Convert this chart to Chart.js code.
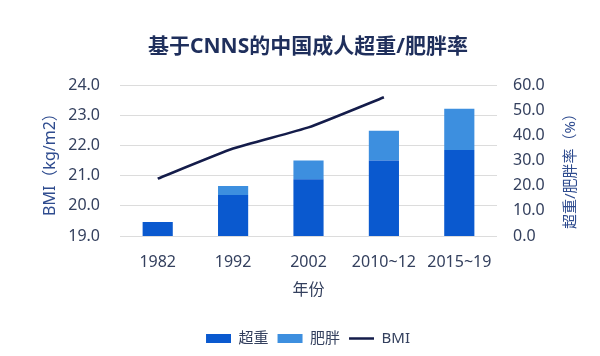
<!DOCTYPE html>
<html>
<head>
<meta charset="utf-8">
<script src="https://cdn.jsdelivr.net/npm/chart.js@4"></script>
<style>
html,body{margin:0;padding:0;background:#fff;}
#wrap{width:600px;height:356px;position:relative;}
</style>
</head>
<body>
<div id="wrap"><canvas id="c" width="600" height="356"></canvas></div>
<script>
const categories = ['1982', '1992', '2002', '2010~12', '2015~19'];
const overweight = [5.6, 16.3, 22.6, 30.0, 34.2];
const obesity = [0, 3.6, 7.4, 11.9, 16.4];
const bmi = [20.9, 21.9, 22.6, 23.6, null];
const leftTicks = [19, 20, 21, 22, 23, 24];
const rightTicks = [0, 10, 20, 30, 40, 50, 60];

const FONT = "'Noto Sans', 'Noto Sans CJK SC', sans-serif";
const TICK_COLOR = '#34405e';
const AXIS_TITLE_COLOR = '#2f4c8f';

const rightTitle = {
  id: 'rightTitle',
  afterDraw(chart) {
    const ctx = chart.ctx;
    const s = chart.scales.y2;
    ctx.save();
    ctx.translate(571, (s.top + s.bottom) / 2 + 7);
    ctx.rotate(-Math.PI / 2);
    ctx.font = '15px ' + FONT;
    ctx.fillStyle = AXIS_TITLE_COLOR;
    ctx.textAlign = 'center';
    ctx.textBaseline = 'middle';
    ctx.fillText('超重/肥胖率（%）', 0, 0);
    ctx.restore();
  }
};

new Chart(document.getElementById('c'), {
  type: 'bar',
  data: {
    labels: categories,
    datasets: [
      { label: '超重', data: overweight, backgroundColor: '#0a59cf', borderWidth: 0, yAxisID: 'y2', stack: 's', order: 2, pointStyle: 'rect' },
      { label: '肥胖', data: obesity, backgroundColor: '#3d8fdf', borderWidth: 0, yAxisID: 'y2', stack: 's', order: 2, pointStyle: 'rect' },
      { label: 'BMI', type: 'line', data: bmi, borderColor: '#141c4a', backgroundColor: '#141c4a', borderWidth: 2.5, pointRadius: 0, tension: 0.15, yAxisID: 'y', order: 0, pointStyle: 'line', spanGaps: false }
    ]
  },
  options: {
    responsive: false,
    animation: false,
    layout: { padding: { left: 16, right: 0, top: 0, bottom: 0 } },
    datasets: { bar: { categoryPercentage: 1, barPercentage: 0.4 } },
    plugins: {
      title: {
        display: true,
        text: '基于CNNS的中国成人超重/肥胖率',
        color: '#1f2f5c',
        font: { family: FONT, size: 21, weight: 'bold' },
        padding: { top: 34, bottom: 26 }
      },
      legend: {
        position: 'bottom',
        labels: {
          usePointStyle: true,
          pointStyleWidth: 25,
          boxHeight: 9,
          color: TICK_COLOR,
          padding: 9,
          font: { family: FONT, size: 15 },
          sort: (a, b) => a.datasetIndex - b.datasetIndex
        }
      },
      tooltip: { enabled: false }
    },
    scales: {
      x: {
        stacked: true,
        grid: { display: false, drawTicks: false },
        border: { display: false },
        ticks: { color: TICK_COLOR, font: { family: FONT, size: 16 }, padding: 17, maxRotation: 0 },
        title: { display: true, text: '年份', color: TICK_COLOR, font: { family: FONT, size: 16 }, padding: { top: 0, bottom: 22 } },
        afterFit(s) { s.height = 86; }
      },
      y: {
        position: 'left',
        min: 19, max: 24,
        afterBuildTicks(s) { s.ticks = leftTicks.map(v => ({ value: v })); },
        grid: { color: '#dcdcdc', lineWidth: 1, drawTicks: false },
        border: { display: false },
        ticks: { color: TICK_COLOR, font: { family: FONT, size: 16 }, padding: 20, callback: v => Number(v).toFixed(1) },
        title: { display: true, text: 'BMI（kg/m2）', color: AXIS_TITLE_COLOR, font: { family: FONT, size: 16 }, padding: { top: 25, bottom: 0 } },
        afterFit(s) { s.width = 104; }
      },
      y2: {
        position: 'right',
        stacked: true,
        min: 0, max: 60,
        afterBuildTicks(s) { s.ticks = rightTicks.map(v => ({ value: v })); },
        grid: { display: false, drawTicks: false },
        border: { display: false },
        ticks: { color: TICK_COLOR, font: { family: FONT, size: 16 }, padding: 16, callback: v => Number(v).toFixed(1) },
        afterFit(s) { s.width = 103; }
      }
    }
  },
  plugins: [rightTitle]
});
</script>
</body>
</html>
